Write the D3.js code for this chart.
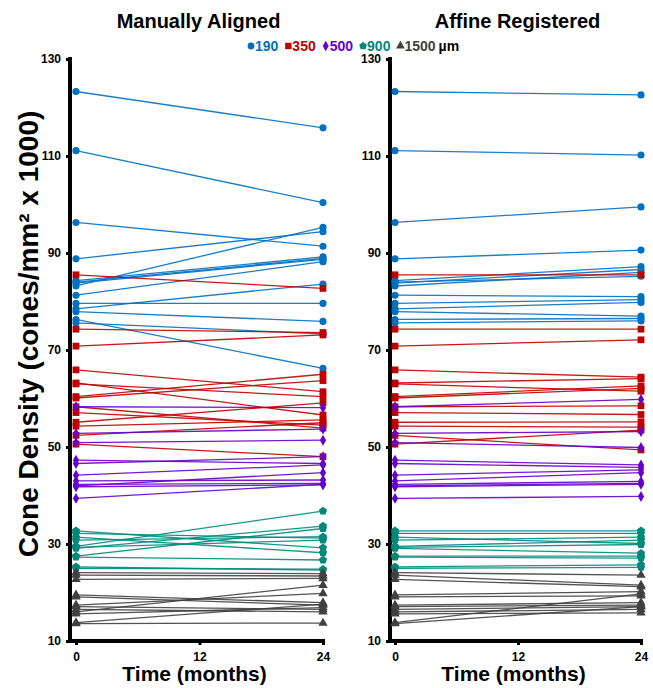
<!DOCTYPE html>
<html>
<head>
<meta charset="utf-8">
<script src="https://cdn.jsdelivr.net/npm/d3@7"></script>
<style>
body { margin: 0; background: #fff; }
text { font-family: "Liberation Sans", Arial, sans-serif; font-weight: bold; }
</style>
</head>
<body>
<div id="chart"></div>
<script>
const months = [0, 24];
const xTicks = [0, 12, 24];
const yTicks = [10, 30, 50, 70, 90, 110, 130];
const eccentricities = ["190", "350", "500", "900", "1500"];
const panelTitles = ["Manually Aligned", "Affine Registered"];

// cone density at baseline and at 24 months, per eye (cones/mm² x 1000)
const base190   = [123.3, 111.1, 96.3, 88.8, 84.3, 84.0, 83.8, 83.2, 81.3, 79.6, 78.5, 77.9, 76.3, 75.6];
const manual190 = [115.8, 100.4, 91.4, 94.4, 89.2, 88.9, 88.7, 95.3, 88.2, 79.6, 83.6, 75.9, 66.2, 73.3];
const affine190 = [122.6, 110.2, 99.5, 90.6, 87.2, 85.2, 86.6, 86.0, 81.0, 80.4, 79.8, 77.0, 76.5, 76.0];

const base350   = [85.5, 74.3, 70.8, 65.9, 63.0, 63.2, 60.4, 60.1, 58.3, 57.1, 55.1, 54.3, 52.4, 50.6];
const manual350 = [82.7, 73.6, 73.1, 61.4, 60.4, 56.6, 65.0, 63.7, 53.9, 54.5, 59.1, 55.6, 55.0, 48.0];
const affine350 = [85.5, 74.3, 72.1, 64.4, 61.5, 64.1, 62.6, 62.1, 58.5, 56.7, 55.2, 54.1, 49.4, 53.5];

const base500   = [58.3, 52.8, 50.9, 47.3, 46.6, 44.2, 43.0, 42.3, 42.0, 41.8, 39.4];
const manual500 = [58.1, 53.7, 51.4, 46.6, 48.0, 46.3, 43.2, 42.5, 44.7, 42.2, 42.3];
const affine500 = [59.8, 53.2, 49.9, 46.3, 45.8, 45.3, 44.7, 42.9, 42.5, 42.3, 39.8];

const base900   = [32.7, 32.2, 31.4, 30.8, 29.5, 29.3, 29.1, 27.5, 27.3, 25.3, 25.0];
const manual900 = [29.2, 31.2, 28.2, 31.5, 36.8, 30.8, 33.7, 33.2, 26.7, 24.6, 24.8];
const affine900 = [32.7, 32.2, 30.1, 31.4, 30.8, 29.9, 28.1, 27.5, 27.1, 25.7, 25.2];

const base1500   = [24.1, 23.6, 22.7, 19.5, 19.1, 17.4, 17.1, 16.5, 16.0, 15.6, 13.8, 13.6];
const manual1500 = [23.9, 23.4, 22.9, 17.9, 17.4, 19.8, 16.5, 16.0, 21.5, 16.9, 17.6, 13.7];
const affine1500 = [23.6, 21.5, 21.2, 20.2, 19.3, 17.9, 17.4, 17.1, 16.5, 15.8, 19.7, 17.1];

const colors = ["#0070c0", "#c00000", "#6600cc", "#00897b", "#404040"];

// regular pentagon for the 900 µm markers
const symbolPentagon = {
	draw(ctx, size) {
		const r = Math.sqrt(size / 2.3776);
		for (let i = 0; i < 5; i++) {
			const a = -Math.PI / 2 + i * 2 * Math.PI / 5;
			if (i == 0) ctx.moveTo(r * Math.cos(a), r * Math.sin(a));
			else ctx.lineTo(r * Math.cos(a), r * Math.sin(a));
		}
		ctx.closePath();
	}
};
const symbols = [d3.symbolCircle, d3.symbolSquare, d3.symbolDiamond, symbolPentagon, d3.symbolTriangle];
const symbolSizes = [40, 46, 34, 44, 38];

const baseline = [base190, base350, base500, base900, base1500];
const followUp = [
	[manual190, manual350, manual500, manual900, manual1500],
	[affine190, affine350, affine500, affine900, affine1500]
];

const width = 653, height = 688;

const svg = d3.select("#chart")
.append("svg")
.attr("width", width)
.attr("height", height);

const y = d3.scaleLinear()
.domain([10, 130])
.range([641, 59]);

function draw_panel(p, axisX, xStart, xEnd) {
	const x = d3.scaleLinear()
	.domain([0, 24])
	.range([xStart, xEnd]);

	const g = svg.append("g");

	// y axis
	const yAxis = g.append("g")
	.attr("transform", `translate(${axisX},0)`)
	.call(d3.axisLeft(y).tickValues(yTicks).tickSize(4).tickPadding(5));
	yAxis.select(".domain").remove();
	yAxis.selectAll("line").attr("stroke-width", 3);
	yAxis.selectAll("text").style("font-size", "12px").attr("fill", "#000");

	// x axis
	const xAxis = g.append("g")
	.attr("transform", `translate(0,641)`)
	.call(d3.axisBottom(x).tickValues(xTicks).tickSize(4).tickPadding(7));
	xAxis.select(".domain").remove();
	xAxis.selectAll("line").attr("stroke-width", 3);
	xAxis.selectAll("text").style("font-size", "12px").attr("fill", "#000");

	g.append("line")
	.attr("x1", axisX).attr("x2", axisX)
	.attr("y1", 57).attr("y2", 643)
	.attr("stroke", "#000").attr("stroke-width", 4);
	g.append("line")
	.attr("x1", axisX - 2).attr("x2", xEnd + 2)
	.attr("y1", 641).attr("y2", 641)
	.attr("stroke", "#000").attr("stroke-width", 4);

	eccentricities.forEach((ecc, k) => {
		const pairs = baseline[k].map((v, i) => [v, followUp[p][k][i]]);
		const grp = g.append("g");

		grp.selectAll("line.pair")
		.data(pairs)
		.join("line")
		.attr("class", "pair")
		.attr("x1", x(months[0]))
		.attr("x2", x(months[1]))
		.attr("y1", d => y(d[0]))
		.attr("y2", d => y(d[1]))
		.attr("stroke", colors[k])
		.attr("stroke-width", 1.3)
		.attr("stroke-opacity", 0.9);

		const pts = [];
		pairs.forEach(d => {
			pts.push([months[0], d[0]]);
			pts.push([months[1], d[1]]);
		});
		grp.selectAll("path")
		.data(pts)
		.join("path")
		.attr("d", d3.symbol().type(symbols[k]).size(symbolSizes[k]))
		.attr("transform", d => `translate(${x(d[0])},${y(d[1])})`)
		.attr("fill", colors[k]);
	});

	svg.append("text")
	.attr("x", (axisX + xEnd) / 2 + 2)
	.attr("y", 28)
	.attr("text-anchor", "middle")
	.style("font-size", "20px")
	.text(panelTitles[p]);

	svg.append("text")
	.attr("x", (axisX + xEnd) / 2 - 2)
	.attr("y", 681)
	.attr("text-anchor", "middle")
	.style("font-size", "21px")
	.text("Time (months)");
}

draw_panel(0, 70, 76, 323);
draw_panel(1, 390, 395, 641);

// y label
svg.append("text")
.attr("transform", "translate(38,334) rotate(-90)")
.attr("text-anchor", "middle")
.style("font-size", "28px")
.text("Cone Density (cones/mm² x 1000)");

// legend
let lx = 248;
const legend = svg.append("g");
eccentricities.forEach((ecc, k) => {
	legend.append("path")
	.attr("d", d3.symbol().type(symbols[k]).size(symbolSizes[k] * 0.9))
	.attr("transform", `translate(${lx + 3},46)`)
	.attr("fill", colors[k]);
	const t = legend.append("text")
	.attr("x", lx + 7)
	.attr("y", 51)
	.attr("fill", colors[k])
	.style("font-size", "14px")
	.text(ecc);
	lx += 7 + t.node().getComputedTextLength() + 7;
});
legend.append("text")
.attr("x", lx - 4)
.attr("y", 51)
.attr("fill", "#000")
.style("font-size", "14px")
.text("µm");
</script>
</body>
</html>
